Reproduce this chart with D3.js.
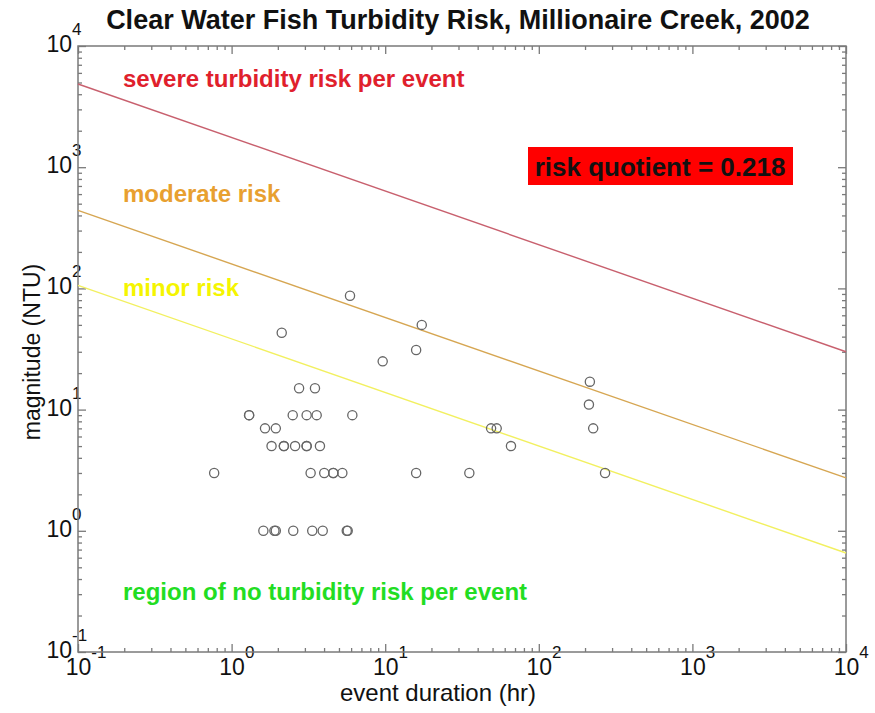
<!DOCTYPE html>
<html>
<head>
<meta charset="utf-8">
<script src="https://cdn.jsdelivr.net/npm/d3@7"></script>
<style>
  body { margin: 0; background: #fff; }
  text { font-family: "Liberation Sans", Arial, sans-serif; }
</style>
</head>
<body>
<div class="chart"></div>
<script>
// event durations (hr) and peak magnitudes (NTU) of each turbidity event
var durations = [0.77, 1.30, 1.30, 1.61, 1.65, 1.82, 1.90, 1.94, 1.94, 2.12, 2.19, 2.19,
    2.50, 2.52, 2.59, 2.75, 3.08, 3.08, 3.08, 3.27, 3.35, 3.49, 3.58, 3.76, 3.92, 4.01,
    4.59, 4.59, 5.26, 5.62, 5.70, 5.90, 6.11, 9.63, 15.9, 15.9, 17.3, 35.3, 48.9, 53.2,
    65.9, 212, 215, 226, 270];
var magnitudes = [3, 9, 9, 1, 7, 5, 1, 1, 7, 43, 5, 5,
    9, 1, 5, 15, 9, 5, 5, 3, 1, 15, 9, 5, 1, 3,
    3, 3, 3, 1, 1, 87, 9, 25, 31, 3, 50, 3, 7, 7,
    5, 11, 17, 7, 3];

// risk threshold lines: magnitude at 0.1 hr and at 10^4 hr
var riskNames = ["severe", "moderate", "minor"];
var riskStart = [4860, 440, 106];
var riskEnd = [30, 2.73, 0.656];
var riskColors = ["#c8606e", "#d6a652", "#f2f060"];

var xMajor = [0.1, 1, 10, 100, 1000, 10000];
var yMajor = [0.1, 1, 10, 100, 1000, 10000];
var exponents = ["-1", "0", "1", "2", "3", "4"];

var riskQuotient = "0.218";

var margin = { top: 46, right: 29, bottom: 61, left: 78 },
    width = 875 - margin.left - margin.right,
    height = 713 - margin.top - margin.bottom;

var svg = d3.select(".chart")
    .append("svg")
    .attr("width", 875)
    .attr("height", 713)
    .append("g")
    .attr("transform", "translate(" + margin.left + "," + margin.top + ")");

var x = d3.scaleLog().domain([0.1, 10000]).range([0, width]);
var y = d3.scaleLog().domain([0.1, 10000]).range([height, 0]);

// minor ticks 2..9 in every decade
var minor = [];
xMajor.slice(0, -1).forEach(function (d) {
    for (var k = 2; k <= 9; k++) minor.push(d * k);
});

var axisColor = "#7a7a7a";

function styleAxis(g) {
    g.select(".domain").remove();
    g.selectAll(".tick line").attr("stroke", axisColor).attr("stroke-width", 1.3);
}

// minor + major ticks on all four sides, pointing inward
svg.append("g").attr("transform", "translate(0," + height + ")")
    .call(d3.axisBottom(x).tickValues(minor).tickSize(-4).tickFormat("")).call(styleAxis);
svg.append("g")
    .call(d3.axisTop(x).tickValues(minor).tickSize(-4).tickFormat("")).call(styleAxis);
svg.append("g")
    .call(d3.axisLeft(y).tickValues(minor).tickSize(-4).tickFormat("")).call(styleAxis);
svg.append("g").attr("transform", "translate(" + width + ",0)")
    .call(d3.axisRight(y).tickValues(minor).tickSize(-4).tickFormat("")).call(styleAxis);

svg.append("g")
    .call(d3.axisTop(x).tickValues(xMajor).tickSize(-8).tickFormat("")).call(styleAxis);
svg.append("g").attr("transform", "translate(" + width + ",0)")
    .call(d3.axisRight(y).tickValues(yMajor).tickSize(-8).tickFormat("")).call(styleAxis);

// labelled axes: "10" with a superscript exponent
var gx = svg.append("g").attr("transform", "translate(0," + height + ")")
    .call(d3.axisBottom(x).tickValues(xMajor).tickSize(-8)).call(styleAxis);
gx.selectAll(".tick text").each(function (d, i) {
    var t = d3.select(this).text(null)
        .attr("fill", "#111").attr("font-size", 23)
        .attr("text-anchor", "start").attr("dy", null)
        .attr("x", -12.8).attr("y", 23);
    t.append("tspan").text("10");
    t.append("tspan").attr("font-size", 17).attr("dy", -17).text(exponents[i]);
});

var gy = svg.append("g")
    .call(d3.axisLeft(y).tickValues(yMajor).tickSize(-8)).call(styleAxis);
gy.selectAll(".tick text").each(function (d, i) {
    var t = d3.select(this).text(null)
        .attr("fill", "#111").attr("font-size", 23)
        .attr("text-anchor", "start").attr("dy", null)
        .attr("x", -31.6).attr("y", 5.5);
    t.append("tspan").text("10");
    t.append("tspan").attr("font-size", 17).attr("dy", -17).text(exponents[i]);
});

// frame
svg.append("rect")
    .attr("width", width).attr("height", height)
    .attr("fill", "none").attr("stroke", axisColor).attr("stroke-width", 1.5);

// risk threshold lines
var line = d3.line()
    .x(function (d) { return x(d[0]); })
    .y(function (d) { return y(d[1]); });

svg.selectAll("risklines")
    .data(riskNames)
    .enter()
    .append("path")
    .attr("fill", "none")
    .attr("stroke", function (d, i) { return riskColors[i]; })
    .attr("stroke-width", 1.4)
    .attr("d", function (d, i) {
        return line([[0.1, riskStart[i]], [10000, riskEnd[i]]]);
    });

// events
svg.selectAll("events")
    .data(durations)
    .enter()
    .append("circle")
    .attr("cx", function (d) { return x(d); })
    .attr("cy", function (d, i) { return y(magnitudes[i]); })
    .attr("r", 4.6)
    .attr("fill", "none")
    .attr("stroke", "#666")
    .attr("stroke-width", 1.3);

// region labels
var labels = [
    { text: "severe turbidity risk per event", color: "#e0202c", y: 87 - margin.top },
    { text: "moderate risk", color: "#e8a030", y: 202 - margin.top },
    { text: "minor risk", color: "#f5f500", y: 296 - margin.top },
    { text: "region of no turbidity risk per event", color: "#22dd22", y: 600 - margin.top }
];
svg.selectAll("regionlabels")
    .data(labels)
    .enter()
    .append("text")
    .attr("x", 123 - margin.left)
    .attr("y", function (d) { return d.y; })
    .attr("fill", function (d) { return d.color; })
    .attr("font-size", 24)
    .attr("font-weight", "bold")
    .text(function (d) { return d.text; });

// risk quotient box
svg.append("rect")
    .attr("x", 528 - margin.left).attr("y", 147 - margin.top)
    .attr("width", 265).attr("height", 38)
    .attr("fill", "#ff0000");
svg.append("text")
    .attr("x", 660 - margin.left).attr("y", 176 - margin.top)
    .attr("text-anchor", "middle")
    .attr("font-size", 26)
    .attr("font-weight", "bold")
    .attr("fill", "#111")
    .text("risk quotient = " + riskQuotient);

// title and axis labels
svg.append("text")
    .attr("x", 458 - margin.left).attr("y", 29 - margin.top)
    .attr("text-anchor", "middle")
    .attr("font-size", 27)
    .attr("font-weight", "bold")
    .attr("fill", "#111")
    .text("Clear Water Fish Turbidity Risk, Millionaire Creek, 2002");

svg.append("text")
    .attr("x", 438 - margin.left).attr("y", 701 - margin.top)
    .attr("text-anchor", "middle")
    .attr("font-size", 24)
    .attr("fill", "#111")
    .text("event duration (hr)");

svg.append("text")
    .attr("transform", "translate(" + (40 - margin.left) + "," + (352 - margin.top) + ") rotate(-90)")
    .attr("text-anchor", "middle")
    .attr("font-size", 23)
    .attr("fill", "#111")
    .text("magnitude (NTU)");
</script>
</body>
</html>
